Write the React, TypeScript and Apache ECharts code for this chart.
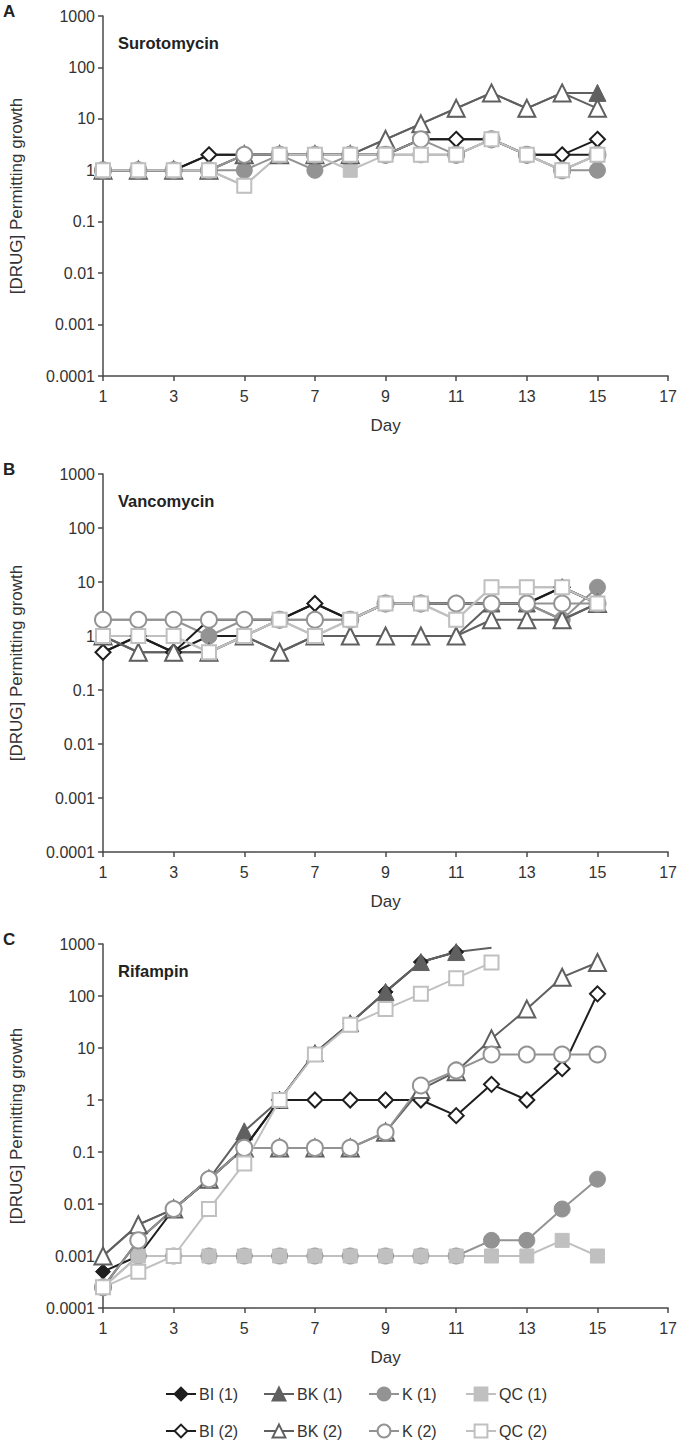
import React, { useEffect, useRef } from "react";
import * as echarts from "echarts";

// ---- data ----
const days = [1, 2, 3, 4, 5, 6, 7, 8, 9, 10, 11, 12, 13, 14, 15];
const xTicks = [1, 3, 5, 7, 9, 11, 13, 15, 17];
const yTickLabels = ["0.0001", "0.001", "0.01", "0.1", "1", "10", "100", "1000"];
const seriesNames = ["BI (1)", "BK (1)", "K (1)", "QC (1)", "BI (2)", "BK (2)", "K (2)", "QC (2)"];
const panelTitles = ["Surotomycin", "Vancomycin", "Rifampin"];
const panelLetters = ["A", "B", "C"];

// Panel A: Surotomycin
const A_BI1 = [1, 1, 1, 2, 2, 2, 2, 2, 2, 4, 4, 4, 2, 2, 2];
const A_BK1 = [1, 1, 1, 1, 2, 2, 2, 2, 4, 8, 16, 32, 16, 32, 32];
const A_K1 = [1, 1, 1, 1, 1, 2, 1, 2, 2, 2, 2, 4, 2, 1, 1];
const A_QC1 = [1, 1, 1, 1, 0.5, 2, 2, 1, 2, 2, 2, 4, 2, 1, 2];
const A_BI2 = [1, 1, 1, 2, 2, 2, 2, 2, 2, 4, 4, 4, 2, 2, 4];
const A_BK2 = [1, 1, 1, 1, 2, 2, 2, 2, 4, 8, 16, 32, 16, 32, 16];
const A_K2 = [1, 1, 1, 1, 2, 2, 2, 2, 2, 4, 2, 4, 2, 1, 2];
const A_QC2 = [1, 1, 1, 1, 0.5, 2, 2, 2, 2, 2, 2, 4, 2, 1, 2];

// Panel B: Vancomycin
const B_BI1 = [0.5, 1, 0.5, 1, 1, 2, 4, 2, 4, 4, 4, 4, 4, 8, 4];
const B_BK1 = [1, 0.5, 0.5, 0.5, 1, 0.5, 1, 1, 1, 1, 1, 4, 4, 2, 4];
const B_K1 = [2, 2, 2, 1, 2, 2, 2, 2, 4, 4, 4, 4, 4, 2, 8];
const B_QC1 = [1, 1, 1, 0.5, 1, 2, 1, 2, 4, 4, 2, 8, 8, 8, 4];
const B_BI2 = [0.5, 1, 0.5, 2, 2, 2, 4, 2, 4, 4, 4, 4, 4, 8, 4];
const B_BK2 = [1, 0.5, 0.5, 0.5, 1, 0.5, 1, 1, 1, 1, 1, 2, 2, 2, 4];
const B_K2 = [2, 2, 2, 2, 2, 2, 2, 2, 4, 4, 4, 4, 4, 4, 4];
const B_QC2 = [1, 1, 1, 0.5, 1, 2, 1, 2, 4, 4, 2, 8, 8, 8, 4];

// Panel C: Rifampin
const C_BI1 = [0.0005, 0.001, 0.008, 0.03, 0.12, 1, 8, 30, 120, 450, 700, null, null, null, null];
const C_BK1 = [0.001, 0.004, 0.008, 0.03, 0.25, 1, 8, 30, 120, 450, 700, 850, null, null, null];
const C_K1 = [0.00025, 0.001, 0.001, 0.001, 0.001, 0.001, 0.001, 0.001, 0.001, 0.001, 0.001, 0.002, 0.002, 0.008, 0.03];
const C_QC1 = [0.00025, 0.001, 0.001, 0.001, 0.001, 0.001, 0.001, 0.001, 0.001, 0.001, 0.001, 0.001, 0.001, 0.002, 0.001];
const C_BI2 = [0.00025, 0.002, 0.008, 0.03, 0.12, 1, 1, 1, 1, 1, 0.5, 2, 1, 4, 110];
const C_BK2 = [0.001, 0.004, 0.008, 0.03, 0.12, 0.12, 0.12, 0.12, 0.24, 1.6, 3.5, 15, 56, 230, 440];
const C_K2 = [0.00025, 0.002, 0.008, 0.03, 0.12, 0.12, 0.12, 0.12, 0.24, 1.9, 3.7, 7.5, 7.5, 7.5, 7.5];
const C_QC2 = [0.00025, 0.0005, 0.001, 0.008, 0.06, 1, 7.5, 28, 56, 110, 220, 440, null, null, null];
// points drawn without a marker (line end only)
const C_BK1_noMarkerDays = [12];

const panelData = [
  [A_BI1, A_BK1, A_K1, A_QC1, A_BI2, A_BK2, A_K2, A_QC2],
  [B_BI1, B_BK1, B_K1, B_QC1, B_BI2, B_BK2, B_K2, B_QC2],
  [C_BI1, C_BK1, C_K1, C_QC1, C_BI2, C_BK2, C_K2, C_QC2],
];

// ---- styles ----
const groupColors = ["#1e1e1e", "#606060", "#939393", "#c0c0c0"];
const groupSymbols = ["diamond", "triangle", "circle", "rect"];
const groupSizes = [15, 17, 16, 14];
const gridTops = [16, 474, 944];
const gridHeights = [360, 378, 364];
const GRID_LEFT = 98;
const GRID_WIDTH = 571;
const AXIS_COLOR = "#4a4a4a";
const TEXT_COLOR = "#333333";
const FONT = "Liberation Sans, Arial, Helvetica, sans-serif";

export default function App() {
  const ref = useRef<HTMLDivElement>(null);

  useEffect(() => {
    if (!ref.current) return;
    const chart = echarts.init(ref.current, undefined, { renderer: "svg" });

    const grids = gridTops.map((top, i) => ({
      left: GRID_LEFT,
      top,
      width: GRID_WIDTH,
      height: gridHeights[i],
      containLabel: false,
    }));

    const xAxes = gridTops.map((_, i) => ({
      type: "value",
      gridIndex: i,
      min: 1,
      max: 17,
      name: "Day",
      nameLocation: "middle",
      nameGap: 41,
      nameTextStyle: { fontSize: 17, color: TEXT_COLOR, fontFamily: FONT },
      axisLine: { lineStyle: { color: AXIS_COLOR, width: 1.5 } },
      axisTick: { show: true, length: 5, customValues: xTicks, lineStyle: { color: AXIS_COLOR, width: 1.5 } },
      axisLabel: { customValues: xTicks, fontSize: 16, color: TEXT_COLOR, margin: 12, fontFamily: FONT },
      splitLine: { show: false },
    }));

    const yAxes = gridTops.map((_, i) => ({
      type: "log",
      logBase: 10,
      gridIndex: i,
      min: 0.0001,
      max: 1000,
      splitNumber: 7,
      name: "[DRUG] Permitting growth",
      nameLocation: "middle",
      nameGap: 78,
      nameRotate: 90,
      nameTextStyle: { fontSize: 17, color: TEXT_COLOR, fontFamily: FONT },
      axisLine: { show: true, lineStyle: { color: AXIS_COLOR, width: 1.5 } },
      axisTick: { show: true, length: 5, lineStyle: { color: AXIS_COLOR, width: 1.5 } },
      axisLabel: {
        fontSize: 16,
        color: TEXT_COLOR,
        margin: 8,
        fontFamily: FONT,
        formatter: (v: number) => {
          const idx = Math.round(Math.log10(v)) + 4;
          return yTickLabels[idx] ?? "";
        },
      },
      splitLine: { show: false },
    }));

    const series: any[] = [];
    panelData.forEach((lists, p) => {
      lists.forEach((vals, s) => {
        const g = s % 4;
        const open = s >= 4;
        const color = groupColors[g];
        const data = days.map((d, k) => {
          const v = vals[k];
          if (v === null || v === undefined) return [d, null];
          if (p === 2 && s === 1 && C_BK1_noMarkerDays.includes(d)) {
            return { value: [d, v], symbol: "none" };
          }
          return [d, v];
        });
        series.push({
          type: "line",
          name: seriesNames[s],
          xAxisIndex: p,
          yAxisIndex: p,
          data,
          symbol: groupSymbols[g],
          symbolSize: groupSizes[g],
          showAllSymbol: true,
          connectNulls: false,
          z: open ? 3 : 2,
          lineStyle: { color, width: 2 },
          itemStyle: open
            ? { color: "#ffffff", borderColor: color, borderWidth: 2 }
            : { color, borderColor: color, borderWidth: 1 },
          emphasis: { disabled: true },
        });
      });
    });

    const legendLefts = [160, 258, 363, 460];
    const legendTops = [1381, 1418];
    const legends = seriesNames.map((n, i) => ({
      show: true,
      left: legendLefts[i % 4],
      top: legendTops[i < 4 ? 0 : 1],
      data: [n],
      itemWidth: 30,
      itemHeight: 16,
      itemGap: 0,
      selectedMode: false,
      textStyle: { fontSize: 16, color: TEXT_COLOR, fontFamily: FONT, padding: [0, 0, 0, -2] },
    }));

    const graphics: any[] = [];
    gridTops.forEach((top, i) => {
      graphics.push({
        type: "text",
        x: 3,
        y: top - 5,
        style: {
          text: panelLetters[i],
          font: `bold 17px ${FONT}`,
          fill: "#222222",
          verticalAlign: "middle",
        },
      });
      graphics.push({
        type: "text",
        x: 118,
        y: top + 27,
        style: {
          text: panelTitles[i],
          font: `bold 16.5px ${FONT}`,
          fill: "#222222",
          verticalAlign: "middle",
        },
      });
    });

    chart.setOption({
      animation: false,
      backgroundColor: "#ffffff",
      textStyle: { fontFamily: FONT },
      grid: grids,
      xAxis: xAxes,
      yAxis: yAxes,
      legend: legends,
      series,
      graphic: graphics,
    });

    return () => chart.dispose();
  }, []);

  return (
    <div
      ref={ref}
      style={{ position: "absolute", left: 0, top: 0, width: 680, height: 1443, background: "#fff" }}
    />
  );
}
